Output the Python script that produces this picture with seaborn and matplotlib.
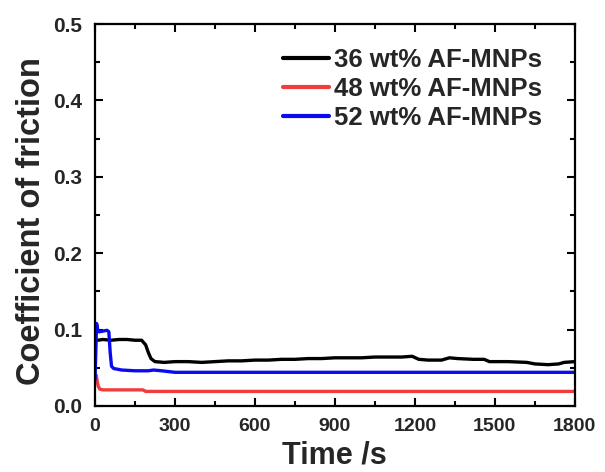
import matplotlib
matplotlib.use("Agg")
import matplotlib.pyplot as plt
import seaborn as sns
import pandas as pd
from matplotlib.ticker import MultipleLocator, FormatStrFormatter

sns.set_theme(style="ticks")
plt.rcParams['font.family'] = ['Liberation Sans', 'DejaVu Sans']
plt.rcParams['font.weight'] = 'bold'

labels = ["36 wt% AF-MNPs", "48 wt% AF-MNPs", "52 wt% AF-MNPs"]
colors = ["#000000", "#f03c3c", "#0a0af0"]

t36 = [10, 30, 60, 90, 120, 150, 175, 190, 200, 210, 225, 260, 300, 350, 400, 450, 500,
       550, 600, 650, 700, 750, 800, 850, 900, 950, 1000, 1050, 1100, 1150, 1190, 1215,
       1250, 1300, 1330, 1360, 1420, 1460, 1480, 1550, 1620, 1650, 1700, 1740, 1760, 1800]
v36 = [0.086, 0.087, 0.086, 0.087, 0.087, 0.086, 0.086, 0.080, 0.070, 0.062, 0.058, 0.057,
       0.058, 0.058, 0.057, 0.058, 0.059, 0.059, 0.060, 0.060, 0.061, 0.061, 0.062, 0.062,
       0.063, 0.063, 0.063, 0.064, 0.064, 0.064, 0.065, 0.061, 0.060, 0.060, 0.063, 0.062,
       0.061, 0.061, 0.058, 0.058, 0.057, 0.055, 0.054, 0.055, 0.057, 0.058]

t48 = [5, 8, 12, 18, 30, 100, 180, 190, 600, 1200, 1800]
v48 = [0.040, 0.033, 0.026, 0.022, 0.021, 0.021, 0.021, 0.019, 0.019, 0.019, 0.019]

t52 = [0, 3, 6, 10, 15, 30, 45, 52, 57, 62, 70, 100, 150, 200, 220, 250, 300, 600, 1200, 1800]
v52 = [0.034, 0.070, 0.108, 0.100, 0.097, 0.098, 0.099, 0.097, 0.070, 0.052, 0.049, 0.047,
       0.046, 0.046, 0.047, 0.046, 0.044, 0.044, 0.044, 0.044]

df = pd.concat([
    pd.DataFrame({"t": t36, "v": v36, "s": labels[0]}),
    pd.DataFrame({"t": t48, "v": v48, "s": labels[1]}),
    pd.DataFrame({"t": t52, "v": v52, "s": labels[2]}),
])

fig = plt.figure(figsize=(6.05, 4.72), dpi=100)
ax = fig.add_axes([0.157, 0.140, 0.793, 0.809])
sns.lineplot(data=df, x="t", y="v", hue="s", palette=colors, linewidth=2.4,
             estimator=None, sort=False, ax=ax)

ax.set_xlim(0, 1800)
ax.set_ylim(0, 0.5)
ax.xaxis.set_major_locator(MultipleLocator(300))
ax.xaxis.set_minor_locator(MultipleLocator(150))
ax.yaxis.set_major_locator(MultipleLocator(0.1))
ax.yaxis.set_minor_locator(MultipleLocator(0.05))
ax.yaxis.set_major_formatter(FormatStrFormatter('%.1f'))
ax.tick_params(which='both', direction='in', top=True, right=True, width=1.5,
               color='black')
ax.tick_params(which='major', length=6)
ax.tick_params(which='minor', length=3.5)
ax.tick_params(axis='x', which='both', labeltop=False, labelsize=14, pad=8.5)
ax.tick_params(axis='y', which='both', labelright=False, labelsize=15, pad=9)
for lab in ax.get_xticklabels() + ax.get_yticklabels():
    lab.set_fontweight('bold')
for sp in ax.spines.values():
    sp.set_linewidth(1.6)
    sp.set_color('black')

ax.set_xlabel("Time /s", fontsize=22, fontweight='bold', labelpad=4.5)
ax.set_ylabel("Coefficient of friction", fontsize=23.5, fontweight='bold')
ax.yaxis.set_label_coords(-0.10, 0.483)

leg = ax.legend(loc='upper right', bbox_to_anchor=(0.969, 0.985), frameon=False,
                handlelength=1.8, handletextpad=0.2, borderaxespad=0.3,
                labelspacing=0.2, prop={'weight': 'bold', 'size': 18.5})
for line in leg.get_lines():
    line.set_linewidth(3)

fig.savefig("out.png", dpi=100)
